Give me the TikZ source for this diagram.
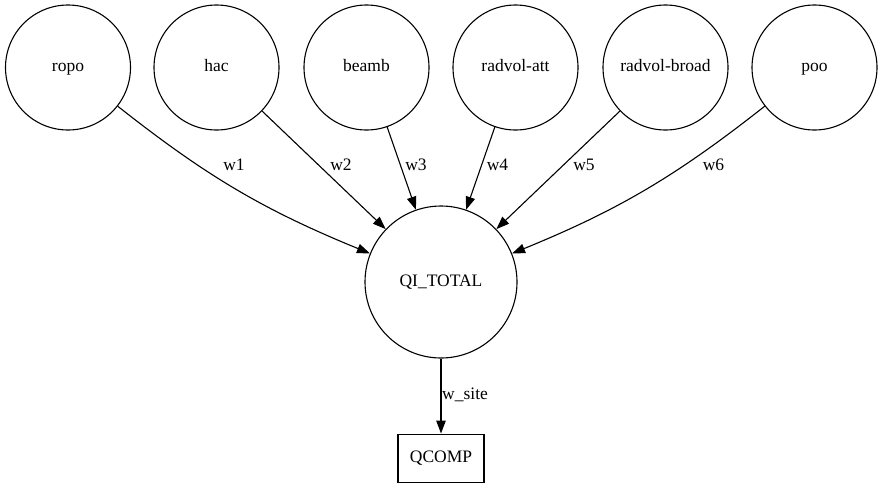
\documentclass[tikz,border=0pt]{standalone}
\usepackage{fontspec}
\setmainfont{Liberation Serif}
\usetikzlibrary{arrows.meta}
\begin{document}
\begin{tikzpicture}[x=1pt,y=-1pt,
  every node/.style={font=\fontsize{17.5}{21}\selectfont},
  var/.style={circle,draw,line width=1.1pt,minimum size=125pt,inner sep=0pt,text height=12pt,text depth=4pt},
  big/.style={circle,draw,line width=1.1pt,minimum size=152pt,inner sep=0pt,text height=12pt,text depth=4pt},
  box/.style={rectangle,draw,line width=1.1pt,minimum width=86pt,minimum height=48.5pt,inner sep=0pt,text height=12pt,text depth=4pt},
  edge/.style={draw,line width=1.1pt,-{Triangle[length=13pt,width=9.5pt]}},
  lbl/.style={inner sep=0pt,text height=12pt,text depth=4pt}]
\useasboundingbox (0,0) rectangle (883,488);
\node[var] (ropo) at (68,67.5) {ropo};
\node[var] (hac) at (216.5,67.5) {hac};
\node[var] (beamb) at (366.5,67.5) {beamb};
\node[var] (ratt) at (515.5,67.5) {radvol-att};
\node[var] (rbroad) at (665.5,67.5) {radvol-broad};
\node[var] (poo) at (814.5,67.5) {poo};
\node[big] (qi) at (441,282) {QI\_TOTAL};
\node[box] (qc) at (441,458.3) {QCOMP};
\path[edge] (ropo) to[bend right=8] (qi);
\path[edge] (hac) -- (qi);
\path[edge] (beamb) -- (qi);
\path[edge] (ratt) -- (qi);
\path[edge] (rbroad) -- (qi);
\path[edge] (poo) to[bend left=8] (qi);
\path[edge] (qi) -- (qc);
\node[lbl] (l1) at (234,166) {w1};
\node[lbl] (l2) at (341,166) {w2};
\node[lbl] (l3) at (416,166) {w3};
\node[lbl] (l4) at (497.5,166) {w4};
\node[lbl] (l5) at (584,166) {w5};
\node[lbl] (l6) at (713.5,166) {w6};
\node[lbl,anchor=west] (ls) at (442,395) {w\_site};
\end{tikzpicture}
\end{document}
